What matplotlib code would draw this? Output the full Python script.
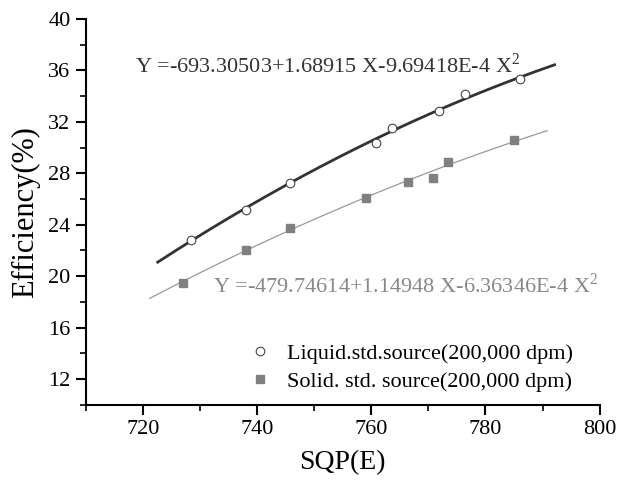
import numpy as np
import matplotlib
matplotlib.use('Agg')
import matplotlib.pyplot as plt
from matplotlib.ticker import MultipleLocator

# Liquid std. source (open circles)
liq_x = [728.5, 738.0, 745.8, 760.8, 763.7, 771.8, 776.4, 786.1]
liq_y = [22.85, 25.15, 27.27, 30.38, 31.5, 32.85, 34.14, 35.31]
# Solid std. source (filled squares)
sol_x = [727.0, 738.0, 745.7, 759.0, 766.4, 770.8, 773.5, 785.0]
sol_y = [19.45, 22.04, 23.75, 26.1, 27.33, 27.66, 28.9, 30.6]

# quadratic fit coefficients as printed on the chart (a0, a1, a2)
liq_coef = [-693.30503, 1.68915, -9.69418E-4]
sol_coef = [-479.74614, 1.14948, -6.36346E-4]
liq_fit_range = [722.6, 792.1]
sol_fit_range = [721.2, 790.8]

liq_label = 'Liquid.std.source(200,000 dpm)'
sol_label = 'Solid. std. source(200,000 dpm)'
liq_eq = r'Y =-693.30503+1.68915 X-9.69418E-4 X$^{2}$'
sol_eq = r'Y =-479.74614+1.14948 X-6.36346E-4 X$^{2}$'

plt.rcParams['font.family'] = ['Liberation Serif', 'DejaVu Serif']
plt.rcParams['mathtext.fontset'] = 'custom'
plt.rcParams['mathtext.rm'] = 'Liberation Serif'

fig = plt.figure(figsize=(6.26, 4.86), dpi=100)
ax = fig.add_axes([0.137, 0.167, 0.821, 0.794])

def fit_curve(coef, rng):
    x = np.linspace(rng[0], rng[1], 200)
    return x, coef[0] + coef[1]*x + coef[2]*x**2

fx, fy = fit_curve(liq_coef, liq_fit_range)
ax.plot(fx, fy, color='#333333', lw=2.0, zorder=2)
fx, fy = fit_curve(sol_coef, sol_fit_range)
ax.plot(fx, fy, color='#999999', lw=0.9, zorder=2)

ax.plot(liq_x, liq_y, 'o', ms=6.2, mfc='white', mec='#444444', mew=0.8,
        label=liq_label, zorder=3)
ax.plot(sol_x, sol_y, 's', ms=5.5, mfc='#808080', mec='#808080',
        label=sol_label, zorder=3)

ax.text(0.095, 0.86, liq_eq, transform=ax.transAxes, fontsize=16,
        color='#333333', va='baseline')
ax.text(0.247, 0.29, sol_eq, transform=ax.transAxes, fontsize=16,
        color='#888888', va='baseline')

ax.set_xlim(710, 800)
ax.set_ylim(10, 40)
ax.xaxis.set_major_locator(MultipleLocator(20))
ax.xaxis.set_minor_locator(MultipleLocator(10))
ax.yaxis.set_major_locator(MultipleLocator(4))
ax.yaxis.set_minor_locator(MultipleLocator(2))
ax.set_yticks([12, 16, 20, 24, 28, 32, 36, 40])

for s in ['top', 'right']:
    ax.spines[s].set_visible(False)
for s in ['left', 'bottom']:
    ax.spines[s].set_linewidth(1.5)
ax.tick_params(which='major', direction='out', length=7, width=1.5,
               labelsize=16, pad=4)
ax.tick_params(which='minor', direction='out', length=4, width=1.2)

ax.set_xlabel('SQP(E)', fontsize=20, labelpad=8)
ax.set_ylabel('Efficiency(%)', fontsize=22, labelpad=6)

ax.legend(loc='lower right', bbox_to_anchor=(0.965, 0.01), frameon=False,
          fontsize=16, handletextpad=0.6, labelspacing=0.36,
          handlelength=1.2, borderaxespad=0)

fig.savefig('out.png', dpi=100)
